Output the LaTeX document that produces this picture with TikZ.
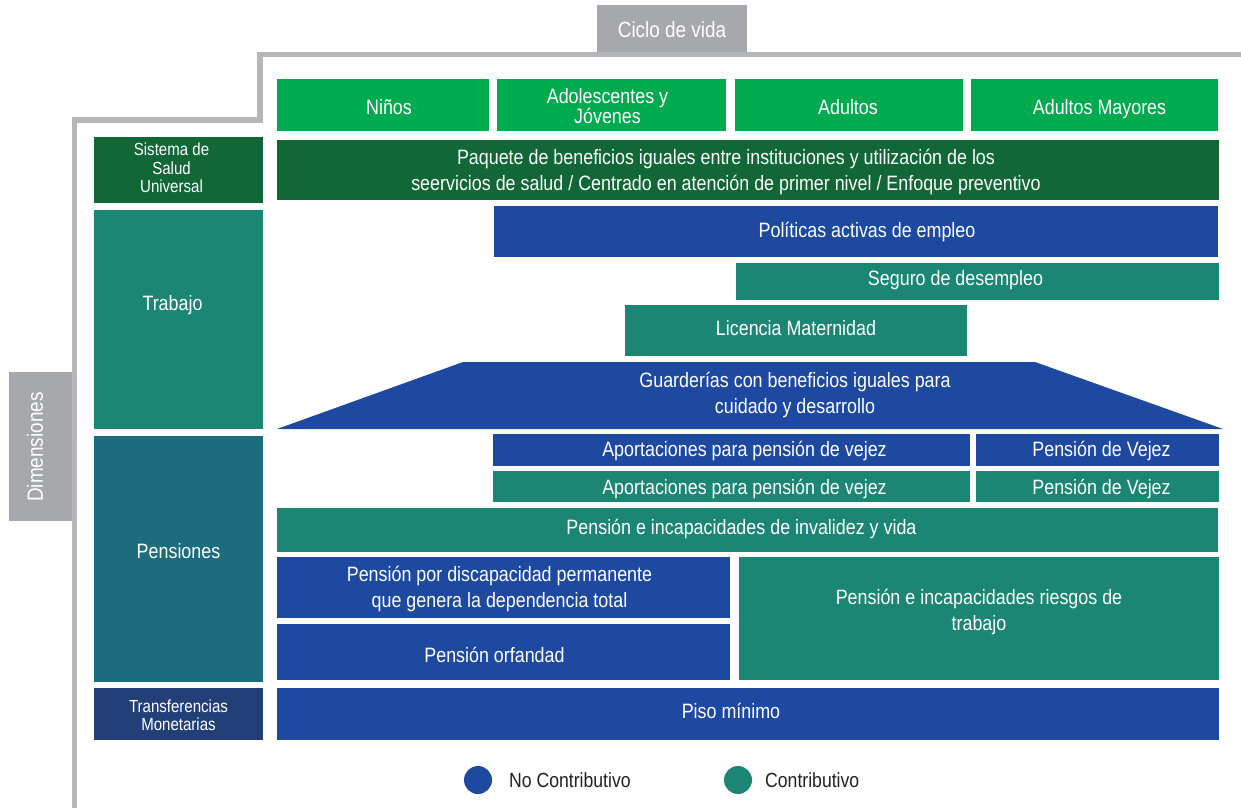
\documentclass[tikz,border=0pt]{standalone}
\usepackage{fontspec}
\setmainfont{Liberation Sans}[FakeStretch=0.86]
\begin{document}
\begin{tikzpicture}[x=1pt,y=-1pt,
  box/.style={inner sep=0pt,outer sep=0pt},
  txt/.style={inner sep=0pt,outer sep=0pt,text=white,align=center,font=\fontsize{20.8}{21}\selectfont},
  twoline/.style={font=\fontsize{20.8}{26}\selectfont},
  small/.style={font=\fontsize{17.5}{18.5}\selectfont},
  big/.style={font=\fontsize{22}{24}\selectfont},
  frameline/.style={draw=lineGray,line width=5.5pt},
  legendtxt/.style={inner sep=0pt,anchor=west,text=legendText,font=\fontsize{20.5}{21}\selectfont}]
\definecolor{brightGreen}{HTML}{00AA4F}
\definecolor{darkGreen}{HTML}{126736}
\definecolor{tealC}{HTML}{1A8673}
\definecolor{tealPen}{HTML}{1B6D7E}
\definecolor{blueC}{HTML}{1E49A0}
\definecolor{navyC}{HTML}{223F78}
\definecolor{boxGray}{HTML}{A7A8AB}
\definecolor{lineGray}{HTML}{B5B6B8}
\definecolor{legendText}{HTML}{231F20}
% \bx[text opts]{x1}{y1}{x2}{y2}{name}{fill}{text dy}{text}
\newcommand\bx[9][]{%
  \node[box,fill=#7,minimum width={#4-#2},minimum height={#5-#3}] (#6) at ({(#2+#4)/2},{(#3+#5)/2}) {};
  \node[txt,#1] (#6-t) at ({(#2+#4)/2},{(#3+#5)/2+#8}) {#9};}
\useasboundingbox (0,0) rectangle (1241,808);
% frame line
\coordinate (fA) at (74.5,808);
\coordinate (fB) at (260,120);
\coordinate (fC) at (1241,54.5);
\draw[frameline] (fA) |- (fB) |- (fC);
% header labels
\bx[big]{597}{5}{747}{52}{ciclo}{boxGray}{1}{Ciclo de vida}
\node[box,fill=boxGray,minimum width=63,minimum height=149] (dim) at (40.5,446) {};
\node[txt,big,rotate=90] (dim-t) at (35,447) {Dimensiones};
% life cycle
\bx[xshift=6pt]{277}{79}{489}{131}{ninos}{brightGreen}{2}{Niños}
\bx[font=\fontsize{20.8}{20}\selectfont,xshift=-4pt]{497}{79}{726}{131}{adol}{brightGreen}{1}{Adolescentes y\\Jóvenes}
\bx[xshift=-1pt]{735}{79}{963}{131}{adultos}{brightGreen}{2}{Adultos}
\bx[xshift=5pt]{971}{79}{1218}{131}{mayores}{brightGreen}{4}{Adultos Mayores}
% dimensions
\bx[small,xshift=-7pt]{94}{137}{263}{203}{salud}{darkGreen}{-2}{Sistema de\\Salud\\Universal}
\bx[xshift=-6pt]{94}{210}{263}{429}{trabajo}{tealC}{-14}{Trabajo}
\bx{94}{436}{263}{682}{pensiones}{tealPen}{-8}{Pensiones}
\bx[small]{94}{688}{263}{740}{transf}{navyC}{1}{Transferencias\\Monetarias}
% salud row
\bx[twoline,xshift=-22pt]{277}{140}{1219}{200}{paquete}{darkGreen}{2}{Paquete de beneficios iguales entre instituciones y utilización de los\\seervicios de salud / Centrado en atención de primer nivel / Enfoque preventivo}
% trabajo rows
\bx[xshift=11pt]{494}{206}{1218}{257}{politicas}{blueC}{0}{Políticas activas de empleo}
\bx[xshift=-22pt]{736}{263}{1219}{300}{seguro}{tealC}{-1}{Seguro de desempleo}
\bx{625}{305}{967}{356}{licencia}{tealC}{-2}{Licencia Maternidad}
\coordinate (tBL) at (277,429);
\coordinate (tTL) at (463,362);
\coordinate (tTR) at (1035,362);
\coordinate (tBR) at (1223,429);
\fill[blueC] (tBL) -- (tTL) -- (tTR) -- (tBR) -- cycle;
\node[txt,twoline] (guard) at (795,395) {Guarderías con beneficios iguales para\\cuidado y desarrollo};
% pensiones rows
\bx[xshift=13pt]{493}{434}{970}{466}{aport1}{blueC}{1}{Aportaciones para pensión de vejez}
\bx[xshift=4pt]{976}{434}{1219}{466}{vejez1}{blueC}{1}{Pensión de Vejez}
\bx[xshift=13pt]{493}{471}{970}{502}{aport2}{tealC}{2}{Aportaciones para pensión de vejez}
\bx[xshift=4pt]{976}{471}{1219}{502}{vejez2}{tealC}{2}{Pensión de Vejez}
\bx[xshift=-6pt]{277}{508}{1218}{552}{invalidez}{tealC}{-1}{Pensión e incapacidades de invalidez y vida}
\bx[twoline,xshift=-4pt]{277}{557}{730}{618}{discap}{blueC}{1}{Pensión por discapacidad permanente\\que genera la dependencia total}
\bx[xshift=-9pt]{277}{624}{730}{680}{orfandad}{blueC}{3}{Pensión orfandad}
\bx[twoline]{739}{557}{1219}{680}{riesgos}{tealC}{-6.5}{Pensión e incapacidades riesgos de\\trabajo}
% transferencias row
\bx[xshift=-17pt]{277}{688}{1219}{740}{piso}{blueC}{-3}{Piso mínimo}
% legend
\fill[blueC] (478,780) circle (14) coordinate (lgB);
\node[legendtxt] (lgBt) at (509,780) {No Contributivo};
\fill[tealC] (738,780) circle (14) coordinate (lgG);
\node[legendtxt] (lgGt) at (765,780) {Contributivo};
\end{tikzpicture}
\end{document}
